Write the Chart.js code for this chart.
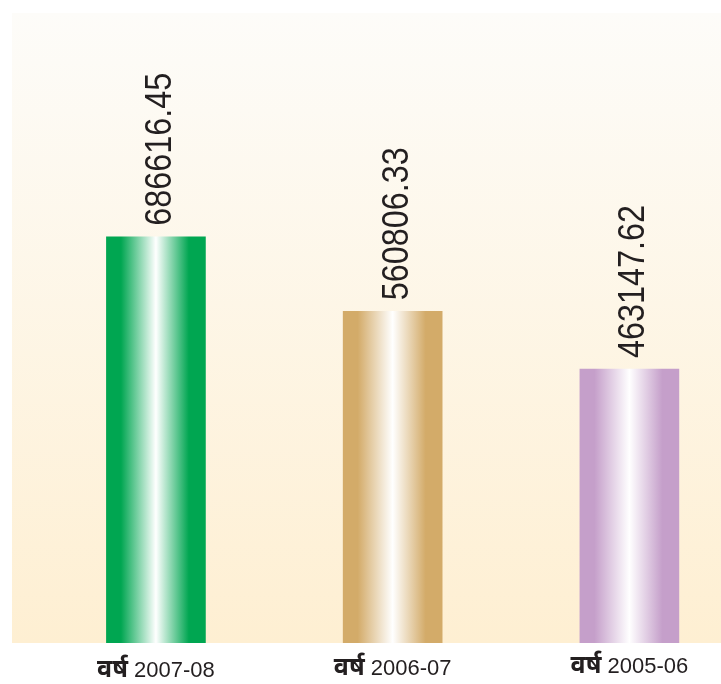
<!DOCTYPE html>
<html>
<head>
<meta charset="utf-8">
<script src="https://cdn.jsdelivr.net/npm/chart.js@4/dist/chart.umd.min.js"></script>
<style>
html,body{margin:0;padding:0;background:#ffffff;}
canvas{display:block;}
</style>
</head>
<body>
<canvas id="c" width="721" height="684"></canvas>
<script>
const yearPrefix = 'वर्ष';
const years = ['2007-08', '2006-07', '2005-06'];
const values = [686616.45, 560806.33, 463147.62];
const valueLabels = ['686616.45', '560806.33', '463147.62'];
const barColours = ['#00A651', '#D3AB69', '#C59FCA'];

function barGradient(context) {
  const chart = context.chart;
  const base = barColours[context.dataIndex];
  const xs = chart.scales && chart.scales.x;
  if (!chart.chartArea || !xs || context.type !== 'data') return base;
  const cx = xs.getPixelForValue(context.dataIndex);
  const half = 50;
  const g = chart.ctx.createLinearGradient(cx - half, 0, cx + half, 0);
  g.addColorStop(0, base);
  g.addColorStop(0.15, base);
  g.addColorStop(0.5, '#FFFFFF');
  g.addColorStop(0.83, base);
  g.addColorStop(1, base);
  return g;
}

const bgPlugin = {
  id: 'bg',
  beforeDraw(chart) {
    const {ctx, chartArea: a} = chart;
    const g = ctx.createLinearGradient(0, a.top, 0, a.bottom);
    g.addColorStop(0, '#FDFCF9');
    g.addColorStop(1, '#FEEFD2');
    ctx.save();
    ctx.fillStyle = g;
    ctx.fillRect(a.left, a.top, a.right - a.left, a.bottom - a.top);
    ctx.restore();
  }
};

const labelPlugin = {
  id: 'labels',
  afterDatasetsDraw(chart) {
    const ctx = chart.ctx;
    const meta = chart.getDatasetMeta(0);
    ctx.save();
    ctx.fillStyle = '#231F20';
    meta.data.forEach((el, i) => {
      ctx.save();
      ctx.translate(el.x + 15, el.y - 11);
      ctx.rotate(-Math.PI / 2);
      ctx.scale(0.875, 1);
      ctx.font = '37px "Liberation Sans", Arial, sans-serif';
      ctx.textAlign = 'left';
      ctx.textBaseline = 'alphabetic';
      ctx.fillText(valueLabels[i], 0, 0);
      ctx.restore();
    });
    // category labels
    const xs = chart.scales.x;
    const baseY = chart.chartArea.bottom + 34;
    years.forEach((yr, i) => {
      const cx = xs.getPixelForValue(i);
      const f1 = 'bold 25px "Noto Sans Devanagari", "Noto Sans", "Lohit Devanagari", sans-serif';
      const f2 = '22px "Liberation Sans", Arial, sans-serif';
      ctx.font = f1;
      const w1 = ctx.measureText(yearPrefix).width;
      ctx.font = f2;
      const w2 = ctx.measureText(' ' + yr).width;
      let x0 = cx - (w1 + w2) / 2;
      ctx.textAlign = 'left';
      ctx.textBaseline = 'alphabetic';
      ctx.font = f1;
      ctx.fillText(yearPrefix, x0, baseY - i * 2);
      ctx.font = f2;
      ctx.fillText(' ' + yr, x0 + w1, baseY - i * 2);
    });
    ctx.restore();
  }
};

new Chart(document.getElementById('c'), {
  type: 'bar',
  data: {
    datasets: [{
      data: values.map((v, i) => ({x: i, y: v})),
      backgroundColor: barGradient,
      borderWidth: 0,
      barThickness: 99
    }]
  },
  options: {
    responsive: false,
    animation: false,
    events: [],
    layout: {padding: {left: 12, top: 13, right: 0, bottom: 41}},
    plugins: {legend: {display: false}, tooltip: {enabled: false}},
    scales: {
      x: {type: 'linear', offset: false, min: -0.608, max: 2.387, display: false},
      y: {min: 0, max: 1065000, display: false}
    }
  },
  plugins: [bgPlugin, labelPlugin]
});
</script>
</body>
</html>
